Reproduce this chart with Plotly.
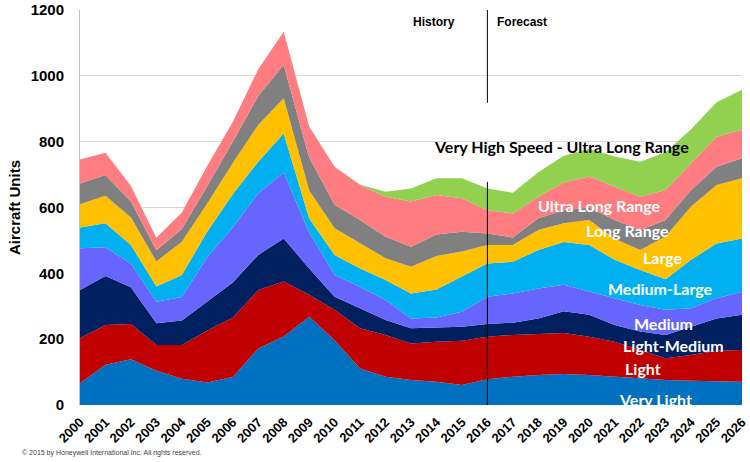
import plotly.graph_objects as go

years = list(range(2000, 2027))
year_labels = [str(y) for y in years]

very_light = [66, 122, 139, 104, 80, 68, 85, 172, 208, 268, 197, 111, 86, 76, 71, 61, 78, 86, 91, 94, 91, 86, 81, 76, 74, 72, 71]
light = [137, 121, 107, 78, 102, 158, 180, 177, 167, 67, 92, 122, 127, 111, 121, 134, 129, 127, 125, 125, 116, 106, 86, 66, 78, 93, 96]
light_medium = [146, 149, 112, 66, 75, 89, 107, 107, 131, 80, 40, 61, 45, 46, 44, 43, 39, 37, 47, 66, 67, 51, 56, 71, 86, 98, 107]
medium = [127, 87, 72, 66, 71, 135, 168, 187, 200, 110, 66, 65, 61, 30, 30, 45, 83, 89, 91, 80, 71, 81, 81, 76, 56, 61, 70]
medium_large = [63, 73, 56, 46, 67, 77, 100, 96, 119, 42, 61, 56, 61, 76, 85, 107, 101, 96, 117, 130, 141, 117, 106, 93, 147, 167, 162]
large = [71, 84, 84, 76, 101, 85, 95, 112, 107, 85, 81, 76, 66, 81, 102, 76, 56, 51, 61, 57, 76, 64, 61, 130, 162, 177, 183]
long_range = [63, 63, 48, 34, 39, 53, 65, 88, 101, 100, 71, 71, 65, 61, 65, 60, 35, 23, 35, 40, 38, 57, 61, 50, 50, 56, 61]
ultra_long_range = [73, 67, 47, 38, 50, 62, 60, 81, 101, 94, 116, 106, 122, 137, 120, 102, 71, 73, 66, 84, 94, 101, 101, 91, 81, 91, 87]
vhs_ulr = [0, 0, 0, 0, 0, 0, 0, 0, 0, 0, 0, 2, 15, 40, 51, 61, 66, 63, 74, 81, 84, 92, 106, 115, 104, 105, 121]

series_names = ["Very Light", "Light", "Light-Medium", "Medium", "Medium-Large",
                "Large", "Long Range", "Ultra Long Range", "Very High Speed - Ultra Long Range"]
series_values = [very_light, light, light_medium, medium, medium_large,
                 large, long_range, ultra_long_range, vhs_ulr]
colors = ["#0070C0", "#C00000", "#002060", "#6666FF", "#00B0F0",
          "#FFC000", "#808080", "#FF7C80", "#92D050"]

y_ticks = [0, 200, 400, 600, 800, 1000, 1200]

fig = go.Figure()
for name, vals, col in zip(series_names, series_values, colors):
    fig.add_trace(go.Scatter(
        x=years, y=vals, name=name, mode="lines",
        stackgroup="one", line=dict(width=0, color=col),
        fillcolor=col, showlegend=False,
    ))

label_font = dict(family="Lato, Carlito, Arial", size=16, color="white")
inner_labels = [
    ("Ultra Long Range", 2020.4, 605),
    ("Long Range", 2021.5, 531),
    ("Large", 2022.9, 448),
    ("Medium-Large", 2022.8, 355),
    ("Medium", 2022.9, 248),
    ("Light-Medium", 2023.3, 182),
    ("Light", 2022.1, 112),
    ("Very Light", 2022.6, 18),
]
for txt, xv, yv in inner_labels:
    fig.add_annotation(x=xv, y=yv, text="<b>%s</b>" % txt, showarrow=False,
                       font=label_font, xanchor="center", yanchor="middle")

fig.add_annotation(x=2018.9, y=786, text="<b>Very High Speed - Ultra Long Range</b>",
                   showarrow=False, font=dict(family="Lato, Carlito, Arial", size=16, color="black"),
                   xanchor="center", yanchor="middle")
fig.add_annotation(x=2014.8, y=1164, text="<b>History</b>", showarrow=False,
                   font=dict(family="Liberation Sans, Arial", size=12, color="black"),
                   xanchor="right", yanchor="middle")
fig.add_annotation(x=2016.3, y=1164, text="<b>Forecast</b>", showarrow=False,
                   font=dict(family="Liberation Sans, Arial", size=12, color="black"),
                   xanchor="left", yanchor="middle")
fig.add_annotation(xref="paper", yref="paper", x=-0.091, y=-0.1215,
                   text="© 2015 by Honeywell International Inc. All rights reserved.",
                   showarrow=False, font=dict(family="Liberation Sans, Arial", size=7, color="#444444"),
                   xanchor="left", yanchor="middle")

fig.add_shape(type="line", x0=2016, x1=2016, y0=0, y1=678, xref="x", yref="y",
              line=dict(color="black", width=1), layer="above")
fig.add_shape(type="line", x0=2016, x1=2016, y0=918, y1=1200, xref="x", yref="y",
              line=dict(color="black", width=1), layer="above")

fig.update_layout(
    width=750, height=462,
    margin=dict(l=80, r=8, t=10, b=57, autoexpand=False),
    paper_bgcolor="white", plot_bgcolor="white",
    font=dict(family="Liberation Sans, Arial", color="black"),
)
fig.update_xaxes(
    range=[2000, 2026], tickmode="array", tickvals=years,
    ticktext=["<b>%s</b>" % s for s in year_labels],
    tickangle=-45, tickfont=dict(family="Liberation Sans, Arial", size=13, color="black"),
    showgrid=False, zeroline=False, showline=False, ticks="", automargin=False,
    ticklabelstandoff=6,
)
fig.update_yaxes(
    range=[0, 1200], tickmode="array", tickvals=y_ticks,
    ticktext=["<b>%d</b>" % v for v in y_ticks],
    tickfont=dict(family="Liberation Sans, Arial", size=15, color="black"),
    showgrid=True, gridcolor="#D9D9D9", gridwidth=1, zeroline=False,
    showline=True, linecolor="#BFBFBF", linewidth=1, ticks="", automargin=False,
    ticklabelstandoff=12,
    title=dict(text="<b>Aircraft Units</b>", font=dict(family="Liberation Sans, Arial", size=15, color="black"), standoff=6),
)

fig.write_html("out.html", config={"displayModeBar": False},
               post_script="document.body.style.margin='0';document.body.style.overflow='hidden';")
